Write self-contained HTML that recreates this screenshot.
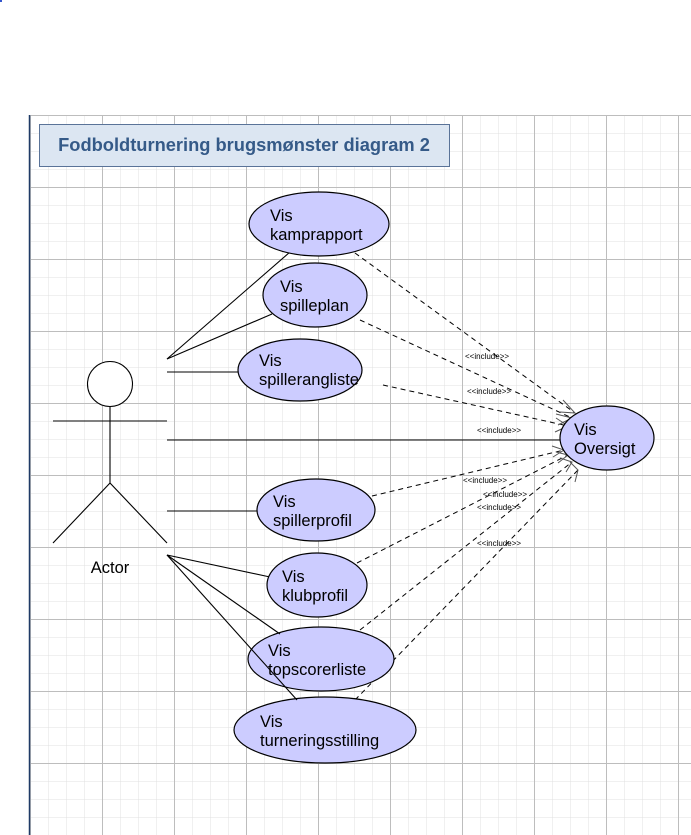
<!DOCTYPE html>
<html><head><meta charset="utf-8"><style>
html,body{margin:0;padding:0;background:#fff;}
svg{display:block;font-family:"Liberation Sans",Arial,sans-serif;}
</style></head><body>
<svg width="691" height="835" viewBox="0 0 691 835" xmlns="http://www.w3.org/2000/svg">
<defs>
<pattern id="minor" x="30" y="115" width="18" height="18" patternUnits="userSpaceOnUse">
<path d="M0 0H18M0 0V18" stroke="#e0e0e0" stroke-width="1" fill="none"/>
</pattern>
<pattern id="major" x="30" y="115" width="72" height="72" patternUnits="userSpaceOnUse">
<path d="M0 0.5H72M0.5 0V72" stroke="#bdbdbd" stroke-width="1" fill="none"/>
</pattern>
</defs>
<rect x="30" y="115" width="661" height="720" fill="url(#minor)"/>
<rect x="30" y="115" width="661" height="720" fill="url(#major)"/>
<line x1="29.5" y1="115" x2="29.5" y2="835" stroke="#1f3a66" stroke-width="1.5"/>
<rect x="0" y="0" width="2" height="2" fill="#3355cc"/>
<rect x="39.5" y="124.5" width="410" height="42" fill="#dce6f2" stroke="#5a7398"/>
<text x="244" y="151" text-anchor="middle" font-size="18.3" font-weight="bold" fill="#355a88">Fodboldturnering brugsmønster diagram 2</text>

<g stroke="#000" fill="none" stroke-width="1.1">
<line x1="167" y1="359" x2="290" y2="252"/>
<line x1="167" y1="359" x2="272" y2="314"/>
<line x1="167" y1="372" x2="240" y2="372"/>
<line x1="167" y1="440" x2="561" y2="440"/>
<line x1="167" y1="511" x2="258" y2="511"/>
<line x1="167" y1="555" x2="270" y2="577"/>
</g>
<g stroke="#000" fill="none" stroke-width="1" stroke-dasharray="5,4">
<line x1="355" y1="253" x2="575" y2="413"/>
<line x1="360" y1="320" x2="572" y2="418"/>
<line x1="383" y1="385" x2="568" y2="426"/>
<line x1="372" y1="496" x2="564" y2="450"/>
<line x1="357" y1="563" x2="568" y2="455"/>
<line x1="360" y1="630" x2="572" y2="462"/>
<line x1="355" y1="700" x2="578" y2="470"/>
</g>
<g stroke="#555" fill="none" stroke-width="1">
<path d="M563 400 L575 413 L560 412"/>
<path d="M556 414 L572 418 L558 425"/>
<path d="M556 418 L568 426 L555 432"/>
<path d="M552 446 L564 450 L553 457"/>
<path d="M556 452 L568 455 L558 463"/>
<path d="M560 458 L572 462 L566 472"/>
<path d="M570 462 L578 470 L575 482"/>
</g>
<g font-size="8" fill="#000">
<text x="465" y="359">&lt;&lt;include&gt;&gt;</text>
<text x="467" y="394">&lt;&lt;include&gt;&gt;</text>
<text x="477" y="433">&lt;&lt;include&gt;&gt;</text>
<text x="463" y="483">&lt;&lt;include&gt;&gt;</text>
<text x="483" y="497">&lt;&lt;include&gt;&gt;</text>
<text x="477" y="510">&lt;&lt;include&gt;&gt;</text>
<text x="477" y="546">&lt;&lt;include&gt;&gt;</text>
</g>

<g fill="#ccccff" stroke="#000" stroke-width="1.2">
<ellipse cx="319" cy="224" rx="70" ry="32"/>
<ellipse cx="315" cy="295" rx="52" ry="32"/>
<ellipse cx="300" cy="370" rx="62" ry="31"/>
<ellipse cx="607" cy="438" rx="47" ry="32"/>
<ellipse cx="316" cy="510" rx="59" ry="31"/>
<ellipse cx="317" cy="585" rx="50" ry="32"/>
<ellipse cx="321" cy="659" rx="73" ry="32"/>
<ellipse cx="325" cy="730" rx="91" ry="33"/>
</g>
<g stroke="#000" fill="none" stroke-width="1.1">
<line x1="167" y1="555" x2="280" y2="634"/>
<line x1="167" y1="555" x2="297" y2="700"/>
</g>
<g font-size="16.5" fill="#000">
<text x="270" y="221">Vis</text><text x="270" y="240">kamprapport</text>
<text x="280" y="292">Vis</text><text x="280" y="311">spilleplan</text>
<text x="259" y="366">Vis</text><text x="259" y="385">spillerangliste</text>
<text x="574" y="435">Vis</text><text x="574" y="454">Oversigt</text>
<text x="273" y="507">Vis</text><text x="273" y="526">spillerprofil</text>
<text x="282" y="582">Vis</text><text x="282" y="601">klubprofil</text>
<text x="268" y="656">Vis</text><text x="268" y="675">topscorerliste</text>
<text x="260" y="727">Vis</text><text x="260" y="746">turneringsstilling</text>
</g>

<g stroke="#000" fill="none" stroke-width="1.1">
<circle cx="110" cy="384" r="22.5" fill="#fff"/>
<line x1="110" y1="407" x2="110" y2="483"/>
<line x1="53" y1="421" x2="167" y2="421"/>
<line x1="110" y1="483" x2="53" y2="543"/>
<line x1="110" y1="483" x2="167" y2="543"/>
</g>
<text x="110" y="573" text-anchor="middle" font-size="16.5" fill="#000">Actor</text>
</svg>
</body></html>
